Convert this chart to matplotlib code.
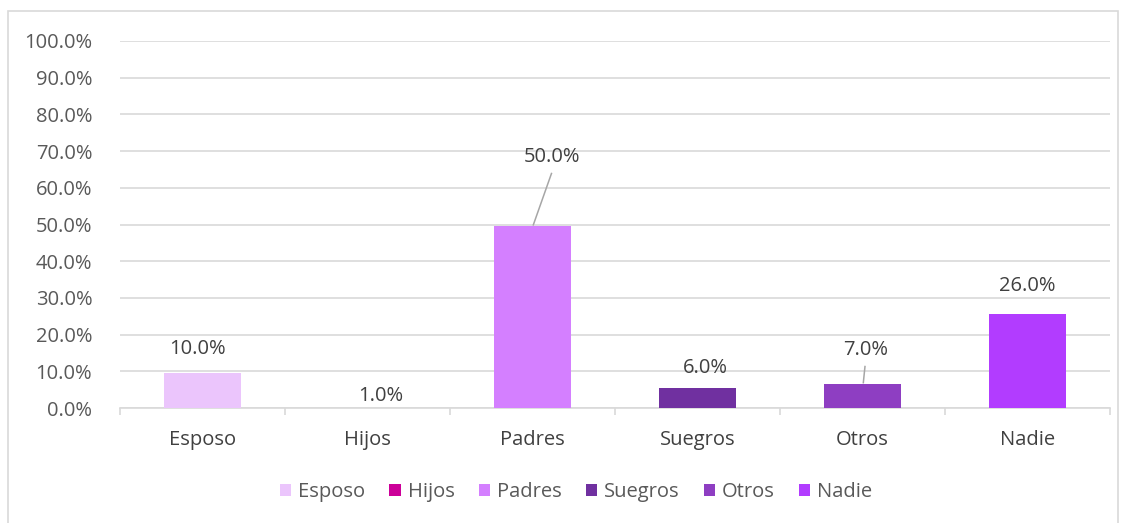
import numpy as np
import matplotlib.pyplot as plt
from matplotlib.patches import Rectangle

categorias = ['Esposo', 'Hijos', 'Padres', 'Suegros', 'Otros', 'Nadie']
# altura de las barras y etiquetas mostradas
valores = [9.5, 0.0, 49.5, 5.5, 6.5, 25.5]
etiquetas = [10.0, 1.0, 50.0, 6.0, 7.0, 26.0]
colores = ['#EBC5FC', '#CC0099', '#D47FFF', '#7030A0', '#8E3EC2', '#B23CFF']

# posición de las etiquetas (desplazamiento x, y en unidades de datos)
pos_etiquetas = [(-0.03, 16.0), (0.08, 3.3), (0.12, 68.3), (0.05, 10.8), (0.02, 15.7), (0.0, 33.2)]
lineas_guia = [False, False, True, False, True, False]

plt.rcParams['font.family'] = ['Open Sans', 'DejaVu Sans']

fig = plt.figure(figsize=(11.27, 5.23), dpi=100)
ax = fig.add_axes([120 / 1127, 1 - 408 / 523, 990 / 1127, 367 / 523])

x = np.arange(len(categorias))
barras = ax.bar(x, valores, width=0.47, color=colores, label=categorias, zorder=3)

for i, (dx, ty) in enumerate(pos_etiquetas):
    ax.text(x[i] + dx, ty, f'{etiquetas[i]:.1f}%', ha='center', va='center',
            fontsize=14.5, color='#404040', zorder=4)
    if lineas_guia[i]:
        ax.plot([x[i] + 0.005, x[i] + dx - 0.005], [valores[i] + 0.4, ty - 4.4],
                color='#A6A6A6', linewidth=1.1, zorder=4)

ax.set_xlim(-0.5, len(categorias) - 0.5)
ax.set_ylim(0, 100)
ax.set_yticks(np.arange(0, 101, 10))
ax.set_yticklabels([f'{v:.1f}%' for v in np.arange(0, 101, 10)])
ax.yaxis.grid(True, color='#D9D9D9', linewidth=1.2, zorder=0)
ax.set_xticks(x)
ax.set_xticklabels(categorias)
ax.set_xticks(np.arange(-0.5, len(categorias), 1), minor=True)
ax.tick_params(axis='x', which='major', length=0, pad=16, labelsize=14.5, colors='#404040')
ax.tick_params(axis='x', which='minor', length=5, color='#D9D9D9', width=1.2)
ax.tick_params(axis='y', length=0, pad=20, labelsize=14.5, colors='#595959')
for lado in ['top', 'right', 'left']:
    ax.spines[lado].set_visible(False)
ax.spines['bottom'].set_color('#D9D9D9')
ax.spines['bottom'].set_linewidth(1.2)

ax.legend(loc='center', bbox_to_anchor=(576 / 1127, 1 - 492 / 523),
          bbox_transform=fig.transFigure, ncol=6, frameon=False, fontsize=14.5,
          handlelength=0.55, handleheight=0.55, handletextpad=0.35, columnspacing=1.2,
          labelcolor='#595959')

fig.patches.append(Rectangle((8 / 1127, -10 / 523), 1110 / 1127, 522 / 523,
                             transform=fig.transFigure, fill=False,
                             edgecolor='#D9D9D9', linewidth=1.2))

fig.savefig('out.png', dpi=100)
